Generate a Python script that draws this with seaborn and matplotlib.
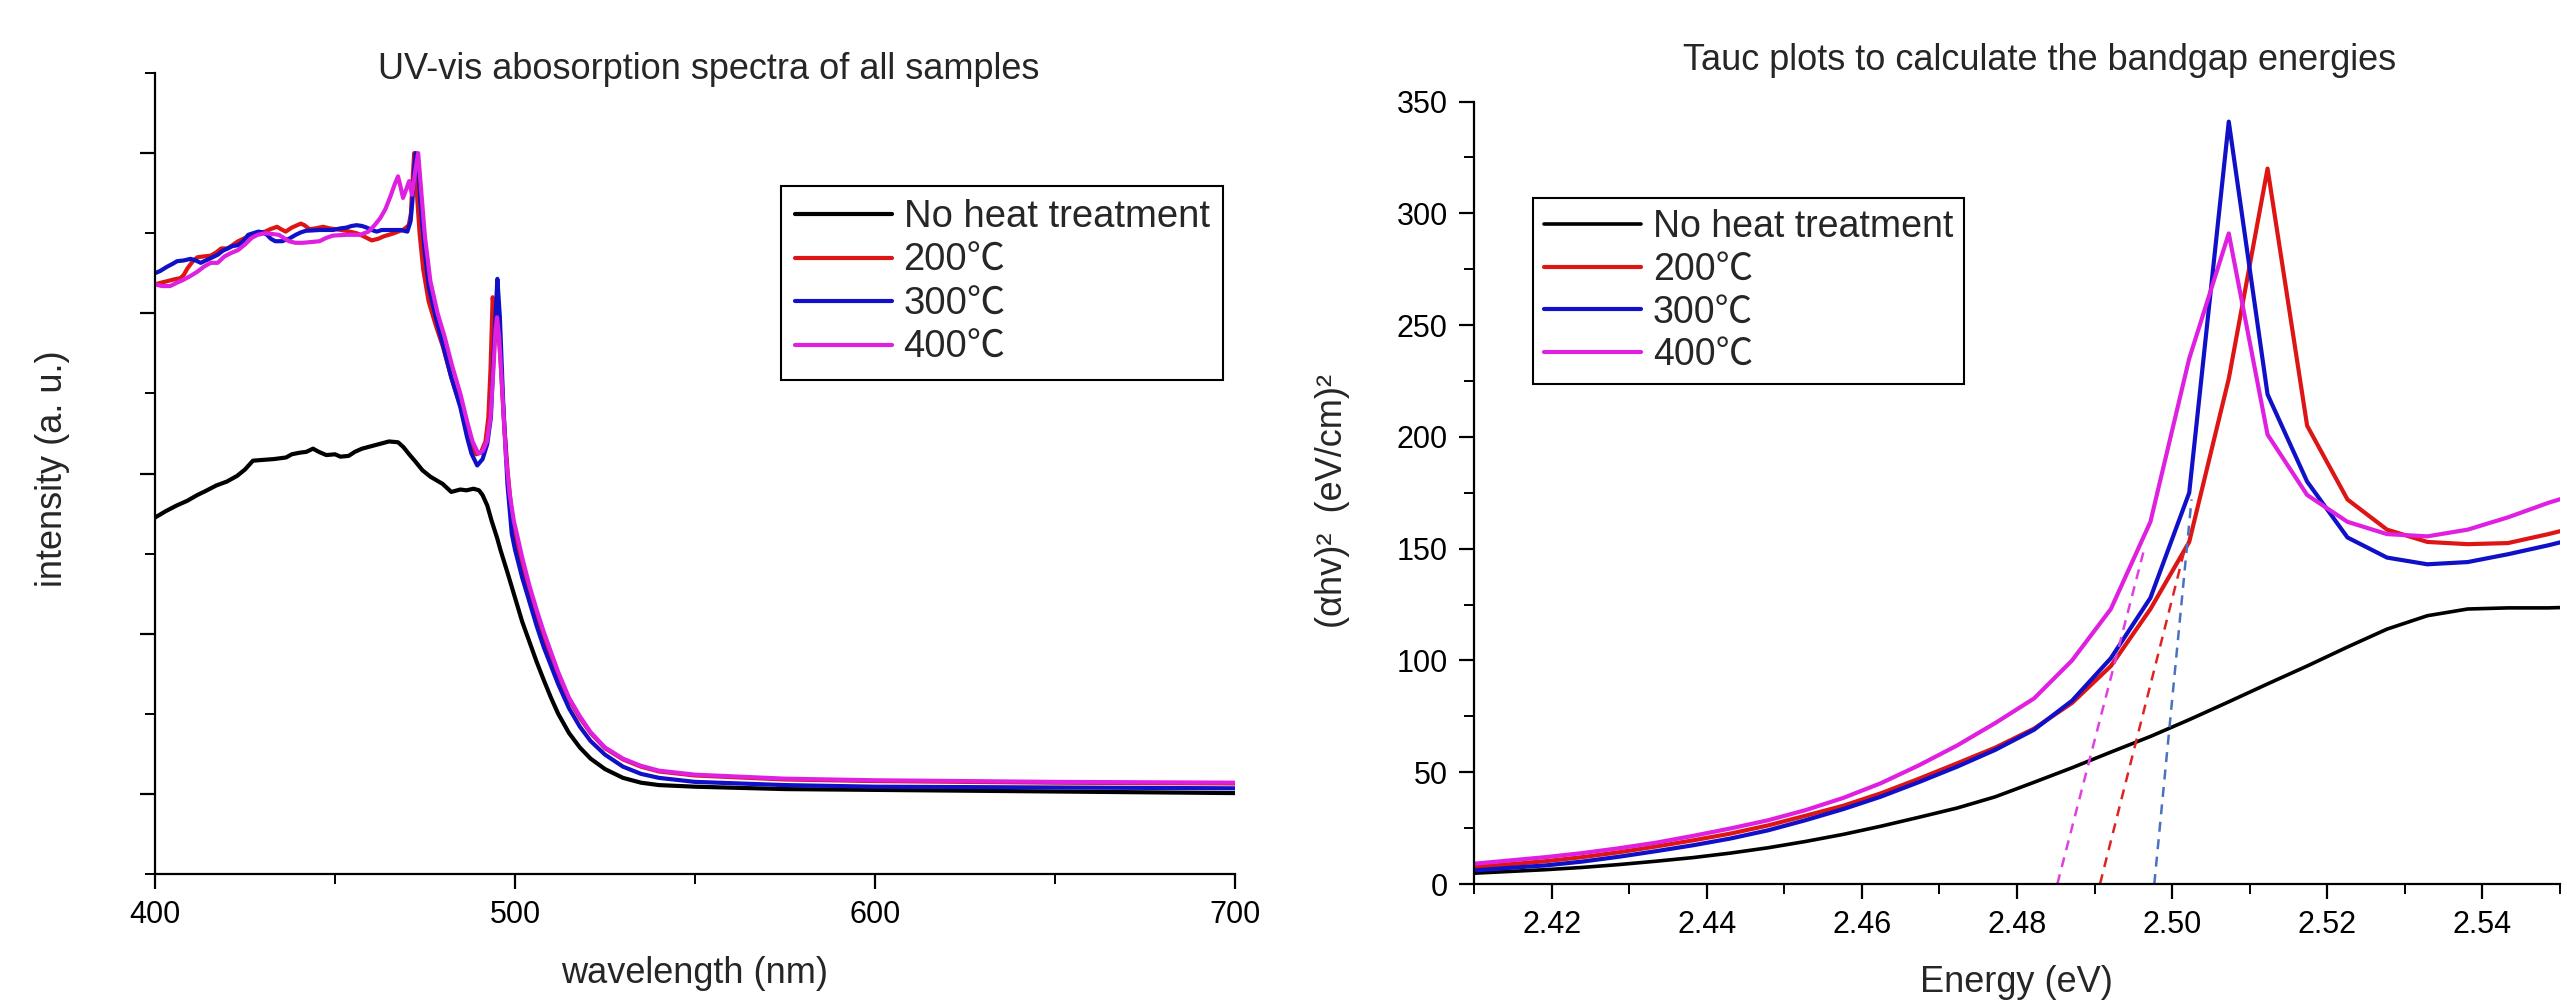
import matplotlib
matplotlib.use("Agg")
import matplotlib.pyplot as plt
from matplotlib.ticker import MultipleLocator, FormatStrFormatter
import seaborn as sns
import pandas as pd

# ---------------- Left panel: UV-vis absorption spectra ----------------
series_names = ["No heat treatment", "200\u2103", "300\u2103", "400\u2103"]

nh_wl = [400, 403, 406, 409, 411.7, 414, 417, 420, 422.8, 425, 427.2, 430, 433, 436.4, 438, 440.2,
         442, 443.9, 445.5, 447.6, 450, 451.5, 453.8, 455.5, 457.5, 460, 462.5, 465, 467.5, 469,
         470.6, 472.5, 474.3, 476.5, 479.9, 482.3, 484.8, 486.5, 488.5, 490, 491, 492.3, 493.5,
         495, 496, 498, 500, 502, 504, 506, 508, 510, 512, 515, 518, 521, 525, 530, 535, 540,
         550, 575, 600, 650, 700]
nh_int = [0.545, 0.553, 0.560, 0.566, 0.573, 0.578, 0.585, 0.590, 0.597, 0.605, 0.616, 0.617,
          0.618, 0.620, 0.624, 0.626, 0.627, 0.631, 0.627, 0.623, 0.624, 0.621, 0.622, 0.627,
          0.631, 0.634, 0.637, 0.640, 0.639, 0.633, 0.624, 0.614, 0.604, 0.596, 0.587, 0.577,
          0.580, 0.579, 0.581, 0.579, 0.573, 0.560, 0.541, 0.520, 0.504, 0.475, 0.445, 0.415,
          0.390, 0.365, 0.342, 0.320, 0.300, 0.276, 0.258, 0.244, 0.231, 0.220, 0.214, 0.211,
          0.209, 0.206, 0.205, 0.203, 0.201]

t200_wl = [400, 401.5, 403.3, 405, 407.1, 408, 409, 410.5, 411.8, 413.5, 415.5, 417, 418.4, 420.2,
           421.5, 423.1, 425, 426.8, 428.5, 430.6, 432, 433.9, 435, 436.3, 438, 440.5, 441.5,
           442.9, 444.5, 446.7, 448.5, 450.3, 453, 456, 458, 460.2, 462, 463.5, 466.4, 469.2,
           470.5, 471.1, 471.6, 472.0, 472.6, 473.5, 474.5, 476, 478, 480, 482.3, 484.8, 486.7,
           488, 489.2, 490.5, 491.8, 492.6, 493.2, 493.8, 494.5, 495.2, 496, 497, 498, 499.3,
           500.5, 502, 504, 506, 508, 510, 512, 515, 518, 521, 525, 530, 535, 540, 550, 575,
           600, 650, 700]
t200_int = [0.836, 0.838, 0.840, 0.842, 0.844, 0.848, 0.856, 0.865, 0.870, 0.871, 0.872, 0.876,
            0.881, 0.881, 0.885, 0.890, 0.894, 0.898, 0.900, 0.902, 0.905, 0.908, 0.905, 0.902,
            0.907, 0.912, 0.910, 0.905, 0.906, 0.908, 0.906, 0.905, 0.903, 0.900, 0.896, 0.891,
            0.893, 0.896, 0.900, 0.905, 0.910, 0.925, 0.970, 1.000, 0.960, 0.900, 0.855, 0.815,
            0.785, 0.758, 0.720, 0.685, 0.652, 0.633, 0.624, 0.626, 0.640, 0.670, 0.730, 0.820,
            0.790, 0.790, 0.740, 0.660, 0.600, 0.540, 0.515, 0.485, 0.452, 0.422, 0.395, 0.372,
            0.349, 0.318, 0.295, 0.276, 0.257, 0.243, 0.234, 0.228, 0.223, 0.218, 0.216, 0.214,
            0.213]

t300_wl = [400, 401.5, 403.3, 405, 406.1, 408, 409.9, 411.3, 412.7, 414.6, 416, 417.4, 418.8, 420.2,
           421.6, 423.1, 424.5, 425.9, 427.3, 428.7, 430, 431.1, 432.2, 433.4, 435.3, 437.2,
           439.1, 440.5, 441.9, 445.7, 449.4, 451.5, 453.2, 454.6, 456, 457.5, 458.8, 460.2,
           461.6, 463, 464.5, 468.2, 470.1, 471.0, 471.5, 472.0, 472.4, 473.0, 473.7, 474.9,
           476.1, 478.0, 479.9, 482.3, 484.8, 486.7, 487.9, 489.5, 491.0, 492.3, 493.3, 494.1,
           494.8, 495.1, 495.8, 496.7, 497.9, 499.1, 500, 502, 504, 506, 508, 510, 512, 515, 518,
           521, 525, 530, 535, 540, 550, 575, 600, 650, 700]
t300_int = [0.850, 0.853, 0.858, 0.862, 0.865, 0.866, 0.868, 0.866, 0.863, 0.867, 0.870, 0.873,
            0.878, 0.881, 0.884, 0.885, 0.890, 0.898, 0.900, 0.902, 0.901, 0.898, 0.893, 0.890,
            0.890, 0.893, 0.898, 0.901, 0.903, 0.904, 0.904, 0.906, 0.907, 0.909, 0.910, 0.909,
            0.907, 0.904, 0.902, 0.904, 0.904, 0.904, 0.902, 0.915, 0.940, 0.980, 1.000, 0.990,
            0.940, 0.878, 0.832, 0.795, 0.762, 0.720, 0.683, 0.645, 0.625, 0.610, 0.618, 0.637,
            0.670, 0.753, 0.815, 0.843, 0.795, 0.691, 0.587, 0.525, 0.505, 0.470, 0.440, 0.410,
            0.383, 0.360, 0.337, 0.307, 0.284, 0.266, 0.249, 0.234, 0.225, 0.220, 0.215, 0.211,
            0.209, 0.208, 0.207]

t400_wl = [400, 402, 404.2, 406, 408, 410, 411.8, 413.5, 415.5, 417.4, 419.3, 421, 423.1, 425,
           426.8, 428.5, 430.6, 432.5, 434.4, 435.8, 437.2, 439, 441, 443.5, 445.7, 447.5, 449.4,
           453.2, 457, 459.3, 461, 462.6, 464, 465.4, 466.5, 467.5, 468.2, 468.9, 469.8, 470.6,
           471.4, 472.2, 473.1, 474.0, 475.0, 476.5, 478.5, 480.5, 482.5, 484.8, 486.7, 488.2,
           489.8, 491, 492.2, 493.2, 494, 494.6, 495.0, 495.6, 496.5, 497.5, 498.5, 499.7, 500.5,
           502, 504, 506, 508, 510, 512, 515, 518, 521, 525, 530, 535, 540, 550, 575, 600, 650,
           700]
t400_int = [0.836, 0.834, 0.834, 0.838, 0.842, 0.847, 0.852, 0.858, 0.863, 0.863, 0.871, 0.875,
            0.879, 0.886, 0.894, 0.898, 0.900, 0.899, 0.898, 0.894, 0.890, 0.888, 0.888, 0.889,
            0.890, 0.894, 0.897, 0.898, 0.898, 0.902, 0.910, 0.919, 0.930, 0.946, 0.960, 0.971,
            0.958, 0.944, 0.955, 0.965, 0.948, 0.975, 1.000, 0.950, 0.895, 0.840, 0.800, 0.770,
            0.735, 0.700, 0.665, 0.640, 0.625, 0.628, 0.640, 0.670, 0.730, 0.780, 0.795, 0.770,
            0.700, 0.620, 0.575, 0.540, 0.525, 0.495, 0.460, 0.430, 0.402, 0.377, 0.352, 0.320,
            0.297, 0.277, 0.258, 0.244, 0.235, 0.229, 0.224, 0.219, 0.217, 0.215, 0.214]

# ---------------- Right panel: Tauc plots ----------------
energy = [2.4098, 2.4145, 2.4192, 2.4239, 2.4287, 2.4335, 2.4382, 2.4430, 2.4479, 2.4527,
          2.4576, 2.4624, 2.4673, 2.4723, 2.4772, 2.4822, 2.4871, 2.4921, 2.4972, 2.5022,
          2.5073, 2.5123, 2.5174, 2.5226, 2.5277, 2.5329, 2.5381, 2.5433, 2.5485, 2.5537]
tauc_nh = [4.8, 5.6, 6.4, 7.4, 8.7, 10.2, 11.8, 13.8, 16.2, 19.0, 22.2, 25.8, 29.8, 34.0, 39.0,
           45.5, 52.0, 59.0, 66.0, 73.5, 81.5, 89.5, 97.5, 106.0, 114.0, 120.0, 123.0, 123.5,
           123.5, 124.0]
tauc_200 = [7.5, 8.8, 10.2, 12.0, 14.2, 16.8, 19.5, 22.5, 26.2, 30.5, 35.0, 40.5, 47.0, 54.0,
            61.0, 69.5, 81.0, 97.5, 123.0, 153.0, 226.0, 320.0, 205.0, 172.0, 158.5, 153.0,
            152.0, 152.5, 156.5, 161.0]
tauc_300 = [6.0, 7.2, 8.3, 10.0, 12.2, 14.7, 17.3, 20.3, 24.0, 28.5, 33.5, 39.0, 45.5, 52.5,
            60.0, 69.0, 82.0, 101.0, 128.0, 175.0, 341.0, 219.0, 180.0, 155.0, 146.0, 143.0,
            144.0, 147.5, 151.5, 156.0]
tauc_400 = [9.0, 10.5, 12.0, 13.8, 16.0, 18.5, 21.5, 24.8, 28.5, 33.0, 38.5, 45.0, 53.0, 62.0,
            72.0, 83.0, 100.0, 123.0, 162.0, 235.0, 291.0, 201.0, 174.0, 162.0, 156.5, 155.5,
            158.5, 164.0, 170.5, 176.0]

# tangent (bandgap extrapolation) lines: [x0, x1], [y0, y1]
fit_400_x = [2.4852, 2.4963]
fit_400_y = [0.0, 148.5]
fit_200_x = [2.4907, 2.5017]
fit_200_y = [0.0, 150.8]
fit_300_x = [2.4977, 2.5025]
fit_300_y = [0.0, 172.0]

colors = ["#000000", "#dd1515", "#1010c8", "#e020e0"]
fit_colors = {"200": "#e02222", "300": "#4a72c0", "400": "#e040e0"}

sns.set_theme(style="ticks")
plt.rcParams["font.family"] = ["Liberation Sans", "Noto Sans CJK SC", "DejaVu Sans"]
plt.rcParams["axes.linewidth"] = 1.6
plt.rcParams["xtick.major.width"] = 1.6
plt.rcParams["ytick.major.width"] = 1.6
plt.rcParams["xtick.minor.width"] = 1.4
plt.rcParams["ytick.minor.width"] = 1.4

fig = plt.figure(figsize=(25.67, 10.08), dpi=100)
ax1 = fig.add_axes([155 / 2567, 1 - 874 / 1008, 1080 / 2567, 801 / 1008])
ax2 = fig.add_axes([1474 / 2567, 1 - 884 / 1008, 1086 / 2567, 782.5 / 1008])

# left panel
left_x = [nh_wl, t200_wl, t300_wl, t400_wl]
left_y = [nh_int, t200_int, t300_int, t400_int]
for name, xs, ys, c in zip(series_names, left_x, left_y, colors):
    df = pd.DataFrame({"wl": xs, "val": ys})
    sns.lineplot(data=df, x="wl", y="val", ax=ax1, color=c, linewidth=3.0,
                 label=name, estimator=None, sort=False)

ax1.set_xlim(400, 700)
ax1.set_ylim(0.1, 1.1)
ax1.xaxis.set_major_locator(MultipleLocator(100))
ax1.xaxis.set_minor_locator(MultipleLocator(50))
ax1.yaxis.set_major_locator(MultipleLocator(0.2))
ax1.yaxis.set_minor_locator(MultipleLocator(0.1))
ax1.tick_params(axis="y", labelleft=False)
ax1.set_xlabel("wavelength (nm)", fontsize=26)
ax1.set_ylabel("intensity (a. u.)", fontsize=26)
ax1.xaxis.set_label_coords(0.5, -0.102)
ax1.yaxis.set_label_coords(-0.079, 0.506)
ax1.set_title("UV-vis abosorption spectra of all samples", fontsize=26,
              x=0.513, y=1.0045, va="center", pad=0)
leg1 = ax1.legend(loc="upper left", bbox_to_anchor=(0.580, 0.859), borderaxespad=0,
                  fontsize=27.5, handlelength=2.55, handletextpad=0.3, labelspacing=0.2,
                  borderpad=0.35, frameon=True, fancybox=False, framealpha=1)
leg1.get_frame().set_edgecolor("black")
leg1.get_frame().set_linewidth(1.5)

# right panel
right_y = [tauc_nh, tauc_200, tauc_300, tauc_400]
lws = [2.6, 3.0, 3.0, 3.0]
for name, ys, c, lw in zip(series_names, right_y, colors, lws):
    df = pd.DataFrame({"E": energy, "val": ys})
    sns.lineplot(data=df, x="E", y="val", ax=ax2, color=c, linewidth=lw,
                 label=name, estimator=None, sort=False)
for key, fx, fy in [("400", fit_400_x, fit_400_y), ("200", fit_200_x, fit_200_y),
                    ("300", fit_300_x, fit_300_y)]:
    sns.lineplot(x=fx, y=fy, ax=ax2, color=fit_colors[key], linewidth=1.8,
                 linestyle=(0, (4, 3)), estimator=None, sort=False, legend=False)

ax2.set_xlim(2.41, 2.55)
ax2.set_ylim(0, 350)
ax2.xaxis.set_major_locator(MultipleLocator(0.02))
ax2.xaxis.set_minor_locator(MultipleLocator(0.01))
ax2.xaxis.set_major_formatter(FormatStrFormatter("%.2f"))
ax2.yaxis.set_major_locator(MultipleLocator(50))
ax2.yaxis.set_minor_locator(MultipleLocator(25))
ax2.set_xlabel("Energy (eV)", fontsize=26)
ax2.set_ylabel("(\u03b1hv)\u00b2  (eV/cm)\u00b2", fontsize=26)
ax2.xaxis.set_label_coords(0.4997, -0.1035)
ax2.yaxis.set_label_coords(-0.114, 0.489)
ax2.set_title("Tauc plots to calculate the bandgap energies", fontsize=26,
              x=0.521, y=1.052, va="center", pad=0)
leg2 = ax2.legend(loc="upper left", bbox_to_anchor=(0.054, 0.877), borderaxespad=0,
                  fontsize=27, handlelength=2.6, handletextpad=0.3, labelspacing=0.18,
                  borderpad=0.3, frameon=True, fancybox=False, framealpha=1)
leg2.get_frame().set_edgecolor("black")
leg2.get_frame().set_linewidth(1.5)

for ax in (ax1, ax2):
    for s in ("top", "right"):
        ax.spines[s].set_visible(False)
    for s in ("left", "bottom"):
        ax.spines[s].set_color("black")
    ax.tick_params(which="major", direction="out", length=11, colors="black",
                   labelsize=22, pad=8)
    ax.tick_params(which="minor", direction="out", length=7, colors="black")
    ax.tick_params(which="both", bottom=True, left=True, top=False, right=False)

fig.savefig("out.png", dpi=100)
